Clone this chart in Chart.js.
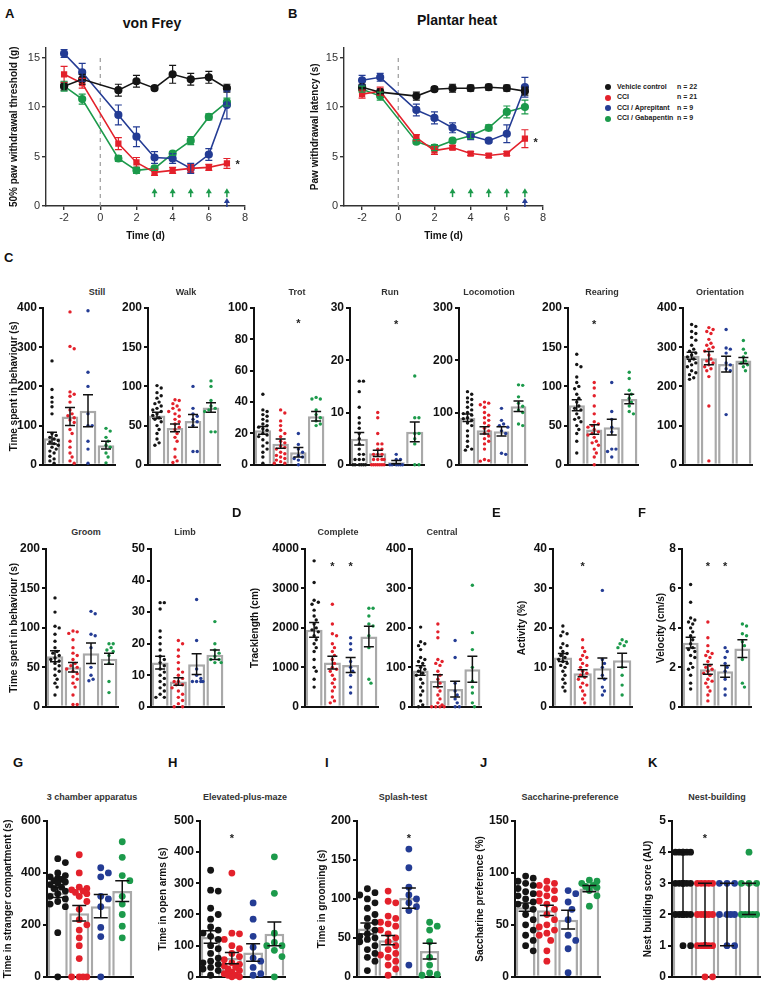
<!DOCTYPE html>
<html>
<head>
<meta charset="utf-8">
<script src="https://cdn.jsdelivr.net/npm/chart.js@4.4.1/dist/chart.umd.min.js"></script>
<style>
  body { margin: 0; background: #fff; font-family: "Liberation Sans", Arial, sans-serif; }
  #fig { position: relative; width: 764px; height: 991px; overflow: hidden; background: #fff; }
  #fig canvas { position: absolute; }
  .txt { position: absolute; font-weight: bold; color: #111; white-space: nowrap; }
  .letter { font-size: 13px; }
  .ptitle { font-size: 9px; color: #333; transform: translate(-50%, -50%); }
  .big { font-size: 14px; transform: translate(-50%, -50%); }
  .leg { font-size: 7px; color: #222; }
  .dot { position: absolute; width: 6px; height: 6px; border-radius: 50%; }
</style>
</head>
<body>
<div id="fig"></div>
<script>
// ---- groups ----
const groupNames = ['Vehicle control', 'CCI', 'CCI / Aprepitant', 'CCI / Gabapentin'];
const groupN = [22, 21, 9, 9];
const groupColors = ['#151515', '#e3212b', '#243c94', '#1c9a4b'];

// ---- A / B : time courses ----
const days = [-2, -1, 1, 2, 3, 4, 5, 6, 7];
const dayTicks = [-2, 0, 2, 4, 6, 8];
const latTicks = [0, 5, 10, 15];

const vfVehicle = [12.1, 12.8, 11.7, 12.6, 11.9, 13.3, 12.8, 13.0, 11.9];
const vfVehicleSem = [0.4, 0.5, 0.6, 0.6, 0.2, 0.9, 0.6, 0.6, 0.4];
const vfCci = [13.3, 12.4, 6.3, 4.4, 3.4, 3.6, 3.8, 3.9, 4.3];
const vfCciSem = [0.8, 0.5, 0.6, 0.5, 0.3, 0.3, 0.4, 0.3, 0.5];
const vfApr = [15.4, 13.5, 9.2, 7.0, 4.9, 4.8, 3.8, 5.2, 10.2];
const vfAprSem = [0.4, 0.9, 1.0, 1.0, 0.6, 0.5, 0.5, 0.6, 1.4];
const vfGab = [12.1, 10.8, 4.8, 3.6, 3.8, 5.3, 6.6, 9.0, 10.5];
const vfGabSem = [0.5, 0.5, 0.3, 0.3, 0.2, 0.2, 0.4, 0.3, 0.4];

const phVehicle = [12.0, 11.5, 11.1, 11.8, 11.9, 11.9, 12.0, 11.9, 11.6];
const phVehicleSem = [0.3, 0.3, 0.4, 0.2, 0.4, 0.3, 0.3, 0.3, 0.4];
const phCci = [11.3, 11.6, 6.9, 5.6, 5.9, 5.3, 5.1, 5.3, 6.8];
const phCciSem = [0.4, 0.4, 0.3, 0.4, 0.2, 0.2, 0.2, 0.2, 0.9];
const phApr = [12.7, 13.0, 9.7, 8.9, 7.9, 7.1, 6.6, 7.3, 12.0];
const phAprSem = [0.5, 0.4, 0.6, 0.6, 0.5, 0.4, 0.2, 0.9, 1.0];
const phGab = [11.8, 11.1, 6.5, 5.9, 6.6, 7.1, 7.9, 9.5, 10.0];
const phGabSem = [0.3, 0.4, 0.2, 0.3, 0.2, 0.3, 0.3, 0.6, 0.7];

const greenArrowDays = [3, 4, 5, 6, 7];
const blueArrowDays = [7];

// ---- C : behaviour (dots per group: vehicle, CCI, aprepitant, gabapentin) ----
const stillDots = [
  [265, 192, 172, 160, 148, 130, 80, 75, 70, 66, 62, 58, 54, 50, 45, 40, 35, 30, 22, 15, 10, 4],
  [390, 302, 296, 186, 180, 175, 160, 140, 130, 125, 120, 114, 108, 90, 80, 60, 45, 30, 20, 10, 4],
  [393, 236, 200, 130, 100, 100, 60, 40, 4],
  [93, 86, 70, 60, 50, 45, 30, 20, 5]];
const stillMean = [68, 123, 138, 50];
const stillSem = [15, 23, 41, 10];
const stillTicks = [0, 100, 200, 300, 400];

const walkDots = [
  [101, 98, 92, 88, 85, 80, 78, 75, 72, 70, 68, 65, 63, 60, 58, 55, 50, 45, 40, 33, 28, 25],
  [83, 82, 78, 75, 72, 70, 68, 65, 62, 58, 55, 52, 48, 45, 40, 35, 30, 20, 10, 5, 3],
  [100, 72, 65, 62, 58, 55, 50, 17, 17],
  [107, 100, 82, 75, 72, 70, 68, 42, 42]];
const walkMean = [63, 47, 56, 73];
const walkSem = [4, 5, 8, 6];
const walkTicks = [0, 50, 100, 150, 200];

const trotDots = [
  [45, 35, 34, 32, 31, 29, 28, 26, 25, 24, 23, 22, 20, 19, 18, 16, 14, 12, 10, 8, 5, 1],
  [35, 33, 28, 25, 22, 20, 18, 15, 14, 12, 11, 10, 8, 7, 6, 5, 4, 3, 2, 1, 1],
  [20, 13, 10, 8, 6, 5, 4, 3, 0],
  [43, 42, 42, 35, 32, 30, 28, 26, 25]];
const trotMean = [22, 13.5, 8, 31];
const trotSem = [2.5, 3, 3, 3];
const trotTicks = [0, 20, 40, 60, 80, 100];
const trotStars = [[2, 91]];

const runDots = [
  [16, 16, 14, 11, 9, 8, 7, 6, 5, 4, 3, 2, 2, 1, 1, 1, 0, 0, 0, 0, 0, 0],
  [10, 9, 6, 4, 4, 3, 3, 2, 2, 2, 1, 1, 1, 1, 0, 0, 0, 0, 0, 0, 0],
  [2, 1, 1, 0, 0, 0, 0, 0, 0],
  [17, 9, 9, 6, 6, 5, 4, 0, 0]];
const runMean = [5, 2.2, 0.5, 6.3];
const runSem = [1.2, 0.6, 0.3, 1.9];
const runTicks = [0, 10, 20, 30];
const runStars = [[2, 27.2]];

const locoDots = [
  [140, 135, 128, 125, 120, 115, 110, 105, 100, 98, 95, 90, 88, 85, 80, 75, 65, 55, 45, 35, 30, 28],
  [120, 118, 115, 110, 100, 95, 90, 85, 80, 75, 70, 65, 60, 55, 50, 45, 40, 30, 10, 8, 7],
  [108, 85, 78, 75, 72, 65, 60, 22, 20],
  [153, 152, 130, 118, 112, 105, 100, 78, 75]];
const locoMean = [90, 66, 64, 112];
const locoSem = [7, 7, 9, 10];
const locoTicks = [0, 100, 200, 300];

const rearDots = [
  [141, 128, 125, 112, 105, 100, 97, 90, 85, 80, 75, 72, 70, 65, 60, 58, 55, 50, 45, 40, 30, 15],
  [105, 98, 88, 75, 65, 55, 52, 50, 48, 45, 42, 40, 38, 35, 30, 28, 25, 20, 15, 10, 0],
  [105, 68, 58, 48, 42, 20, 20, 17, 10],
  [118, 110, 95, 90, 85, 80, 75, 68, 65]];
const rearMean = [76, 45, 48, 84];
const rearSem = [7, 6, 10, 6];
const rearTicks = [0, 50, 100, 150, 200];
const rearStars = [[1, 181]];

const orientDots = [
  [358, 353, 340, 335, 325, 318, 305, 295, 290, 285, 280, 275, 270, 265, 260, 255, 250, 240, 235, 230, 222, 218],
  [350, 345, 340, 335, 320, 310, 305, 300, 295, 290, 280, 270, 265, 260, 255, 250, 245, 240, 225, 150, 10],
  [345, 298, 295, 285, 260, 255, 245, 240, 128],
  [317, 295, 285, 275, 265, 260, 255, 250, 240]];
const orientMean = [278, 272, 257, 266];
const orientSem = [9, 17, 20, 8];
const orientTicks = [0, 100, 200, 300, 400];

const groomDots = [
  [138, 120, 102, 100, 92, 83, 75, 70, 68, 65, 62, 60, 58, 55, 52, 48, 45, 40, 35, 30, 25, 15],
  [96, 95, 93, 85, 75, 68, 65, 60, 55, 52, 50, 48, 45, 42, 38, 35, 30, 25, 15, 3, 3],
  [121, 118, 92, 90, 75, 50, 40, 35, 33],
  [80, 80, 75, 72, 70, 65, 55, 32, 18]];
const groomMean = [64, 50, 68, 61];
const groomSem = [7, 6, 13, 7];
const groomTicks = [0, 50, 100, 150, 200];

const limbDots = [
  [33, 33, 31, 24, 22, 20, 18, 16, 15, 14, 13, 12, 11, 10, 9, 8, 7, 6, 5, 4, 3, 3],
  [21, 20, 18, 16, 14, 12, 11, 10, 9, 8, 8, 7, 7, 6, 5, 4, 3, 2, 1, 0, 0],
  [34, 21, 12, 10, 9, 8, 8, 8, 8],
  [27, 20, 18, 17, 16, 15, 15, 14, 14]];
const limbMean = [14, 8, 13.5, 16.5];
const limbSem = [2, 1.2, 3.3, 1.5];
const limbTicks = [0, 10, 20, 30, 40, 50];

// ---- D / E / F : open field ----
const completeDots = [
  [3700, 3150, 2700, 2650, 2600, 2450, 2300, 2200, 2100, 2000, 1950, 1900, 1800, 1700, 1600, 1500, 1400, 1200, 1000, 900, 700, 500],
  [2600, 2100, 1850, 1800, 1600, 1500, 1400, 1300, 1200, 1100, 1000, 950, 900, 800, 700, 600, 500, 400, 250, 150, 100],
  [1750, 1600, 1450, 1150, 1000, 900, 800, 500, 350],
  [2500, 2500, 2300, 2100, 2050, 1800, 1500, 700, 600]];
const completeMean = [1950, 1120, 1060, 1780];
const completeSem = [190, 160, 190, 260];
const completeTicks = [0, 1000, 2000, 3000, 4000];
const completeStars = [[1, 3600], [2, 3600]];

const centralDots = [
  [202, 165, 160, 155, 145, 125, 120, 115, 110, 100, 95, 90, 85, 80, 70, 60, 50, 40, 30, 15, 5, 0],
  [210, 190, 175, 120, 115, 110, 105, 90, 80, 70, 60, 50, 40, 30, 20, 10, 5, 0, 0, 0, 0],
  [168, 125, 60, 40, 30, 20, 10, 0, 0],
  [308, 188, 145, 100, 65, 50, 35, 10, 0]];
const centralMean = [92, 66, 45, 95];
const centralSem = [12, 15, 20, 33];
const centralTicks = [0, 100, 200, 300, 400];

const activityDots = [
  [20.5, 19, 18.5, 18, 16, 15.5, 15, 14, 13.5, 13, 12.5, 12, 11.5, 11, 10.5, 10, 9, 8, 7, 6, 5, 4],
  [17, 15, 14, 13, 12.5, 12, 11, 10.5, 10, 9, 8.5, 8, 7.5, 7, 6, 5.5, 5, 4, 3, 2, 1],
  [29.5, 12, 11, 10, 8, 7, 5, 4, 3],
  [17, 16.5, 16, 15.5, 15, 10, 8, 5.5, 3]];
const activityMean = [12.5, 8.5, 9.8, 11.8];
const activitySem = [1, 0.9, 2.6, 1.8];
const activityTicks = [0, 10, 20, 30, 40];
const activityStars = [[1, 36]];

const velocityDots = [
  [6.2, 5.3, 4.5, 4.4, 4.3, 4.2, 4.0, 3.8, 3.6, 3.4, 3.2, 3.0, 2.9, 2.8, 2.6, 2.5, 2.2, 2.0, 1.9, 1.6, 1.2, 0.9],
  [4.3, 3.5, 3.1, 2.8, 2.7, 2.6, 2.5, 2.3, 2.1, 2.0, 1.9, 1.8, 1.7, 1.6, 1.4, 1.3, 1.2, 1.0, 0.8, 0.6, 0.3],
  [3.0, 2.8, 2.5, 2.2, 2.0, 1.8, 1.4, 0.9, 0.6],
  [4.2, 4.1, 3.7, 3.6, 3.3, 3.1, 2.4, 1.2, 1.0]];
const velocityMean = [3.25, 1.9, 1.8, 2.95];
const velocitySem = [0.27, 0.25, 0.3, 0.45];
const velocityTicks = [0, 2, 4, 6, 8];
const velocityStars = [[1, 7.2], [2, 7.2]];

// ---- G - K ----
const chamberDots = [
  [455, 440, 400, 390, 385, 380, 375, 370, 365, 360, 355, 345, 340, 330, 320, 310, 300, 290, 280, 270, 170, 0],
  [470, 400, 345, 340, 335, 330, 325, 320, 310, 290, 260, 220, 200, 180, 150, 120, 70, 0, 0, 0, 0],
  [420, 400, 385, 310, 300, 270, 190, 155, 0],
  [520, 460, 390, 370, 310, 280, 240, 195, 150]];
const chamberMean = [325, 245, 272, 330];
const chamberSem = [20, 30, 45, 40];
const chamberTicks = [0, 200, 400, 600];

const mazeDots = [
  [342, 278, 275, 220, 200, 185, 160, 150, 140, 130, 120, 100, 90, 75, 60, 50, 45, 40, 30, 25, 20, 5],
  [333, 140, 138, 120, 100, 90, 75, 65, 55, 45, 40, 35, 30, 25, 20, 15, 10, 5, 5, 0, 0],
  [237, 185, 130, 95, 60, 50, 30, 10, 5],
  [385, 268, 140, 110, 100, 100, 85, 65, 0]];
const mazeMean = [128, 60, 78, 138];
const mazeSem = [20, 18, 28, 38];
const mazeTicks = [0, 100, 200, 300, 400, 500];
const mazeStars = [[1, 450]];

const splashDots = [
  [113, 108, 105, 100, 95, 88, 80, 75, 70, 65, 60, 55, 52, 50, 48, 45, 40, 35, 30, 25, 20, 8],
  [110, 97, 95, 78, 75, 70, 68, 65, 60, 55, 50, 45, 40, 35, 30, 28, 25, 20, 15, 10, 2],
  [164, 140, 115, 105, 100, 95, 90, 85, 15],
  [70, 65, 60, 45, 25, 15, 5, 3, 2]];
const splashMean = [62, 47, 101, 33];
const splashSem = [7, 6, 13, 10];
const splashTicks = [0, 50, 100, 150, 200];
const splashStars = [[2, 180]];

const saccDots = [
  [97, 95, 92, 90, 88, 85, 82, 80, 78, 75, 72, 70, 68, 65, 60, 55, 50, 45, 40, 35, 30, 25],
  [92, 90, 88, 85, 83, 80, 78, 75, 73, 70, 65, 60, 55, 50, 48, 45, 42, 40, 35, 25, 15],
  [83, 80, 72, 65, 55, 40, 35, 27, 4],
  [93, 92, 90, 88, 87, 86, 83, 78, 68]];
const saccMean = [67, 64, 55, 85];
const saccSem = [4, 5, 9, 3];
const saccTicks = [0, 50, 100, 150];

const nestDots = [
  [4, 4, 4, 4, 4, 4, 3, 3, 3, 3, 3, 3, 3, 2, 2, 2, 2, 2, 2, 2, 1, 1],
  [3, 3, 3, 3, 3, 2, 2, 2, 2, 2, 2, 1, 1, 1, 1, 1, 1, 1, 1, 0, 0],
  [3, 3, 3, 2, 2, 2, 2, 1, 1],
  [4, 3, 3, 3, 2, 2, 2, 2, 2]];
const nestMedian = [3, 3, 2, 3];
const nestLow = [2, 1, 1, 2];
const nestHigh = [4, 3, 3, 3];
const nestTicks = [0, 1, 2, 3, 4, 5];
const nestStars = [[1, 4.5]];

// ---------------------------------------------------------------
const FONT = '"Liberation Sans", Arial, sans-serif';
Chart.defaults.font.family = FONT;
const fig = document.getElementById('fig');

function addText(cls, text, x, y, extra) {
  const d = document.createElement('div');
  d.className = 'txt ' + cls;
  d.textContent = text;
  d.style.left = x + 'px';
  d.style.top = y + 'px';
  if (extra) Object.assign(d.style, extra);
  fig.appendChild(d);
  return d;
}

// error bars, stars, arrows, dashed line drawn through the chart scales
function overlay(o) {
  return {
    id: 'overlay',
    beforeDatasetsDraw(chart) {
      if (o.vline === undefined) return;
      const ctx = chart.ctx, xs = chart.scales.x, ys = chart.scales.y;
      const x = xs.getPixelForValue(o.vline);
      ctx.save();
      ctx.strokeStyle = '#9a9a9a';
      ctx.lineWidth = 1.2;
      ctx.setLineDash([4, 4]);
      ctx.beginPath();
      ctx.moveTo(x, ys.getPixelForValue(0));
      ctx.lineTo(x, ys.getPixelForValue(15));
      ctx.stroke();
      ctx.restore();
    },
    afterDatasetsDraw(chart) {
      const ctx = chart.ctx, xs = chart.scales.x, ys = chart.scales.y;
      ctx.save();
      (o.errs || []).forEach(e => {
        ctx.strokeStyle = e.color;
        ctx.lineWidth = e.lw;
        e.xs.forEach((xv, i) => {
          const x = xs.getPixelForValue(xv);
          const y1 = ys.getPixelForValue(e.low[i]);
          const y2 = ys.getPixelForValue(e.high[i]);
          ctx.beginPath();
          ctx.moveTo(x, y1); ctx.lineTo(x, y2);
          ctx.moveTo(x - e.cap, y1); ctx.lineTo(x + e.cap, y1);
          ctx.moveTo(x - e.cap, y2); ctx.lineTo(x + e.cap, y2);
          ctx.stroke();
        });
      });
      (o.stars || []).forEach(s => {
        ctx.fillStyle = '#222';
        ctx.font = 'bold 11px ' + FONT;
        ctx.textAlign = 'center';
        ctx.textBaseline = 'middle';
        ctx.fillText('*', xs.getPixelForValue(s[0]), ys.getPixelForValue(s[1]) + 2);
      });
      (o.arrows || []).forEach(a => {
        ctx.fillStyle = a.color;
        ctx.strokeStyle = a.color;
        ctx.lineWidth = 1.5;
        a.xs.forEach(xv => {
          const x = xs.getPixelForValue(xv), y = ys.getPixelForValue(a.y);
          ctx.beginPath();
          ctx.moveTo(x, y + 4); ctx.lineTo(x, y - 1);
          ctx.stroke();
          ctx.beginPath();
          ctx.moveTo(x - 3, y); ctx.lineTo(x + 3, y); ctx.lineTo(x, y - 5);
          ctx.closePath();
          ctx.fill();
        });
      });
      ctx.restore();
    }
  };
}

// simple beeswarm: spread equal-ish values sideways inside the bar
function swarm(vals, pxX, pxY, d, maxOff) {
  const order = vals.map((v, i) => i).sort((a, b) => vals[b] - vals[a]);
  const placed = [];
  const offs = new Array(vals.length).fill(0);
  const step = (d * 0.5) / pxX;
  order.forEach(i => {
    const y = vals[i] * pxY;
    let best = 0, bestScore = -1;
    for (let k = 0; k < 40; k++) {
      const o = (k % 2 ? 1 : -1) * Math.ceil(k / 2) * step;
      if (Math.abs(o) > maxOff) continue;
      let minD = Infinity;
      placed.forEach(q => { minD = Math.min(minD, Math.hypot(q.x - o * pxX, q.y - y)); });
      if (minD >= d) { best = o; break; }
      if (minD > bestScore) { bestScore = minD; best = o; }
    }
    offs[i] = best;
    placed.push({ x: best * pxX, y });
  });
  return offs;
}

function yScale(p, axisW, yMax, ticks, font, color, lw) {
  return {
    min: 0, max: yMax,
    afterBuildTicks: s => { s.ticks = ticks.map(v => ({ value: v })); },
    ticks: { font: font, color: color, padding: 2, callback: v => String(v) },
    grid: { display: true, drawOnChartArea: false, drawTicks: true, tickLength: 4, color: color, lineWidth: lw },
    border: { display: true, color: color, width: lw },
    title: {
      display: !!p.yTitle, text: p.yTitle, color: '#111',
      font: { size: 10, weight: 'bold' },
      padding: { top: p.yTitle ? p.yTitleX - p.canvasLeft - 6 : 0, bottom: 0 }
    },
    afterFit: s => { s.width = axisW; }
  };
}

function barPanel(p) {
  const padT = 10, padB = 4, padR = 6;
  p.canvasLeft = p.yTitle ? Math.min(p.left - 34, p.yTitleX - 8) : p.left - 34;
  const axisW = p.left - p.canvasLeft;
  const plotW = p.right - p.left, plotH = p.bottom - p.top;
  const yMax = p.ticks[p.ticks.length - 1];
  const cv = document.createElement('canvas');
  cv.width = axisW + plotW + padR;
  cv.height = padT + plotH + padB;
  cv.style.left = p.canvasLeft + 'px';
  cv.style.top = (p.top - padT) + 'px';
  fig.appendChild(cv);

  const pxX = plotW / 4, pxY = plotH / yMax;
  const datasets = [];
  p.dots.forEach((vals, g) => {
    const offs = swarm(vals, pxX, pxY, p.r * 2 + 0.8, 0.4);
    datasets.push({
      type: 'scatter', order: 0, clip: false,
      data: vals.map((v, i) => ({ x: g + offs[i], y: v })),
      backgroundColor: groupColors[g], borderWidth: 0, pointRadius: p.r, pointHoverRadius: p.r
    });
  });
  datasets.push({
    type: 'bar', order: 1,
    data: p.mean.map((m, g) => ({ x: g, y: m })),
    backgroundColor: '#ffffff', borderColor: '#a9a9a9', borderWidth: p.bw || 2.5,
    barPercentage: 0.93, categoryPercentage: 1
  });
  const low = p.low || p.mean.map((m, i) => m - p.sem[i]);
  const high = p.high || p.mean.map((m, i) => m + p.sem[i]);

  new Chart(cv, {
    type: 'bar',
    data: { datasets },
    options: {
      responsive: false, animation: false, devicePixelRatio: 1,
      layout: { padding: { top: padT, right: padR, left: 0, bottom: 0 } },
      plugins: { legend: { display: false }, tooltip: { enabled: false } },
      scales: {
        x: {
          type: 'linear', min: -0.5, max: 3.5, offset: false,
          grid: { display: false }, ticks: { display: false },
          border: { display: true, color: '#111', width: 2 },
          afterFit: s => { s.height = padB; }
        },
        y: yScale(p, axisW, yMax, p.ticks, { size: 12, weight: 'bold' }, '#111', 2)
      }
    },
    plugins: [overlay({
      errs: [{ xs: [0, 1, 2, 3], low, high, color: '#111', lw: 1.5, cap: p.cap || 5 }],
      stars: p.stars || []
    })]
  });
  if (p.title) addText('ptitle', p.title, p.tx, p.ty);
}

function timeCourse(p) {
  const padT = 8, padB = 36, padR = 14;
  p.canvasLeft = p.left - 46;
  const axisW = 46;
  const plotW = p.right - p.left, plotH = p.bottom - p.top;
  const cv = document.createElement('canvas');
  cv.width = axisW + plotW + padR;
  cv.height = padT + plotH + padB;
  cv.style.left = p.canvasLeft + 'px';
  cv.style.top = (p.top - padT) + 'px';
  fig.appendChild(cv);

  const datasets = p.series.map((s, g) => ({
    type: 'line', clip: false,
    data: days.map((d, i) => ({ x: d, y: s[i] })),
    borderColor: groupColors[g], backgroundColor: groupColors[g],
    borderWidth: 1.6, pointRadius: 3.3, pointHoverRadius: 3.3,
    pointStyle: g === 1 ? 'rect' : 'circle', order: g === 0 ? 0 : 1
  }));
  const errs = p.series.map((s, g) => ({
    xs: days, color: groupColors[g], lw: 1.2, cap: 3.5,
    low: s.map((v, i) => v - p.sems[g][i]), high: s.map((v, i) => v + p.sems[g][i])
  }));

  new Chart(cv, {
    type: 'line',
    data: { datasets },
    options: {
      responsive: false, animation: false, devicePixelRatio: 1,
      layout: { padding: { top: padT, right: padR, left: 0, bottom: 0 } },
      plugins: { legend: { display: false }, tooltip: { enabled: false } },
      scales: {
        x: {
          type: 'linear', min: -3, max: 8,
          afterBuildTicks: s => { s.ticks = dayTicks.map(v => ({ value: v })); },
          ticks: { font: { size: 11 }, color: '#333', padding: 1, maxRotation: 0 },
          grid: { display: true, drawOnChartArea: false, drawTicks: true, tickLength: 4, color: '#333', lineWidth: 1.4 },
          border: { display: true, color: '#333', width: 1.4 },
          title: { display: true, text: 'Time (d)', color: '#111', font: { size: 10, weight: 'bold' }, padding: { top: 0, bottom: 0 } },
          afterFit: s => { s.height = padB; }
        },
        y: yScale(p, axisW, 16, latTicks, { size: 11 }, '#333', 1.4)
      }
    },
    plugins: [overlay({
      vline: 0,
      errs: errs,
      stars: [[7.6, p.starY]],
      arrows: [
        { xs: greenArrowDays, y: 1.3, color: groupColors[3] },
        { xs: blueArrowDays, y: 0.3, color: groupColors[2] }
      ]
    })]
  });
}

// ---------------- layout ----------------
timeCourse({
  left: 46, right: 245, top: 47.3, bottom: 206.7, yTitle: '50% paw withdrawal threshold (g)', yTitleX: 14,
  series: [vfVehicle, vfCci, vfApr, vfGab], sems: [vfVehicleSem, vfCciSem, vfAprSem, vfGabSem], starY: 4.3
});
timeCourse({
  left: 344, right: 543, top: 47.3, bottom: 206.7, yTitle: 'Paw withdrawal latency (s)', yTitleX: 315,
  series: [phVehicle, phCci, phApr, phGab], sems: [phVehicleSem, phCciSem, phAprSem, phGabSem], starY: 6.6
});
addText('big', 'von Frey', 152, 23);
addText('big', 'Plantar heat', 457, 20);

// legend for A/B
groupNames.forEach((name, g) => {
  const y = 87 + g * 10.5;
  const dot = document.createElement('div');
  dot.className = 'dot';
  dot.style.left = '605px';
  dot.style.top = (y - 3) + 'px';
  dot.style.background = groupColors[g];
  fig.appendChild(dot);
  addText('leg', name, 617, y - 4.5);
  addText('leg', 'n = ' + groupN[g], 677, y - 4.5);
});

const R1 = { top: 308, bottom: 470, ty: 292 };
const R2 = { top: 549, bottom: 712, ty: 532 };
const R3 = { top: 821, bottom: 982, ty: 797 };
const behaviourTitle = 'Time spent in behaviour (s)';

barPanel({ dots: stillDots, mean: stillMean, sem: stillSem, ticks: stillTicks, title: 'Still', tx: 97, left: 43, right: 115, ...R1, r: 1.7, yTitle: behaviourTitle, yTitleX: 14 });
barPanel({ dots: walkDots, mean: walkMean, sem: walkSem, ticks: walkTicks, title: 'Walk', tx: 186, left: 148, right: 220, ...R1, r: 1.7 });
barPanel({ dots: trotDots, mean: trotMean, sem: trotSem, ticks: trotTicks, stars: trotStars, title: 'Trot', tx: 297, left: 254, right: 325, ...R1, r: 1.7 });
barPanel({ dots: runDots, mean: runMean, sem: runSem, ticks: runTicks, stars: runStars, title: 'Run', tx: 390, left: 350, right: 424, ...R1, r: 1.7 });
barPanel({ dots: locoDots, mean: locoMean, sem: locoSem, ticks: locoTicks, title: 'Locomotion', tx: 489, left: 459, right: 527, ...R1, r: 1.7 });
barPanel({ dots: rearDots, mean: rearMean, sem: rearSem, ticks: rearTicks, stars: rearStars, title: 'Rearing', tx: 602, left: 568, right: 638, ...R1, r: 1.7 });
barPanel({ dots: orientDots, mean: orientMean, sem: orientSem, ticks: orientTicks, title: 'Orientation', tx: 720, left: 683, right: 752, ...R1, r: 1.7 });

barPanel({ dots: groomDots, mean: groomMean, sem: groomSem, ticks: groomTicks, title: 'Groom', tx: 86, left: 46, right: 118, ...R2, r: 1.7, yTitle: behaviourTitle, yTitleX: 14 });
barPanel({ dots: limbDots, mean: limbMean, sem: limbSem, ticks: limbTicks, title: 'Limb', tx: 185, left: 151, right: 224, ...R2, r: 1.7 });
barPanel({ dots: completeDots, mean: completeMean, sem: completeSem, ticks: completeTicks, stars: completeStars, title: 'Complete', tx: 338, left: 305, right: 378, ...R2, r: 1.7, yTitle: 'Tracklength (cm)', yTitleX: 255 });
barPanel({ dots: centralDots, mean: centralMean, sem: centralSem, ticks: centralTicks, title: 'Central', tx: 442, left: 412, right: 481, ...R2, r: 1.7 });
barPanel({ dots: activityDots, mean: activityMean, sem: activitySem, ticks: activityTicks, stars: activityStars, title: '', tx: 590, left: 553, right: 632, ...R2, r: 1.7, yTitle: 'Activity (%)', yTitleX: 522 });
barPanel({ dots: velocityDots, mean: velocityMean, sem: velocitySem, ticks: velocityTicks, stars: velocityStars, title: '', tx: 716, left: 682, right: 751, ...R2, r: 1.7, yTitle: 'Velocity (cm/s)', yTitleX: 661 });

barPanel({ dots: chamberDots, mean: chamberMean, sem: chamberSem, ticks: chamberTicks, title: '3 chamber apparatus', tx: 92, left: 47, right: 133, ...R3, r: 3.4, cap: 7, yTitle: 'Time in stranger compartment (s)', yTitleX: 8 });
barPanel({ dots: mazeDots, mean: mazeMean, sem: mazeSem, ticks: mazeTicks, stars: mazeStars, title: 'Elevated-plus-maze', tx: 245, left: 200, right: 285, ...R3, r: 3.4, cap: 7, yTitle: 'Time in open arms (s)', yTitleX: 163 });
barPanel({ dots: splashDots, mean: splashMean, sem: splashSem, ticks: splashTicks, stars: splashStars, title: 'Splash-test', tx: 403, left: 357, right: 440, ...R3, r: 3.4, cap: 7, yTitle: 'Time in grooming (s)', yTitleX: 322 });
barPanel({ dots: saccDots, mean: saccMean, sem: saccSem, ticks: saccTicks, title: 'Saccharine-preference', tx: 570, left: 515, right: 600, ...R3, r: 3.4, cap: 7, yTitle: 'Saccharine preference (%)', yTitleX: 480 });
barPanel({ dots: nestDots, mean: nestMedian, low: nestLow, high: nestHigh, ticks: nestTicks, stars: nestStars, title: 'Nest-building', tx: 717, left: 672, right: 760, ...R3, r: 3.4, cap: 7, yTitle: 'Nest building score (AU)', yTitleX: 648 });

// panel letters
[['A', 5, 6], ['B', 288, 6], ['C', 4, 250], ['D', 232, 505], ['E', 492, 505], ['F', 638, 505],
 ['G', 13, 755], ['H', 168, 755], ['I', 325, 755], ['J', 480, 755], ['K', 648, 755]]
  .forEach(l => addText('letter', l[0], l[1], l[2]));
</script>
</body>
</html>
